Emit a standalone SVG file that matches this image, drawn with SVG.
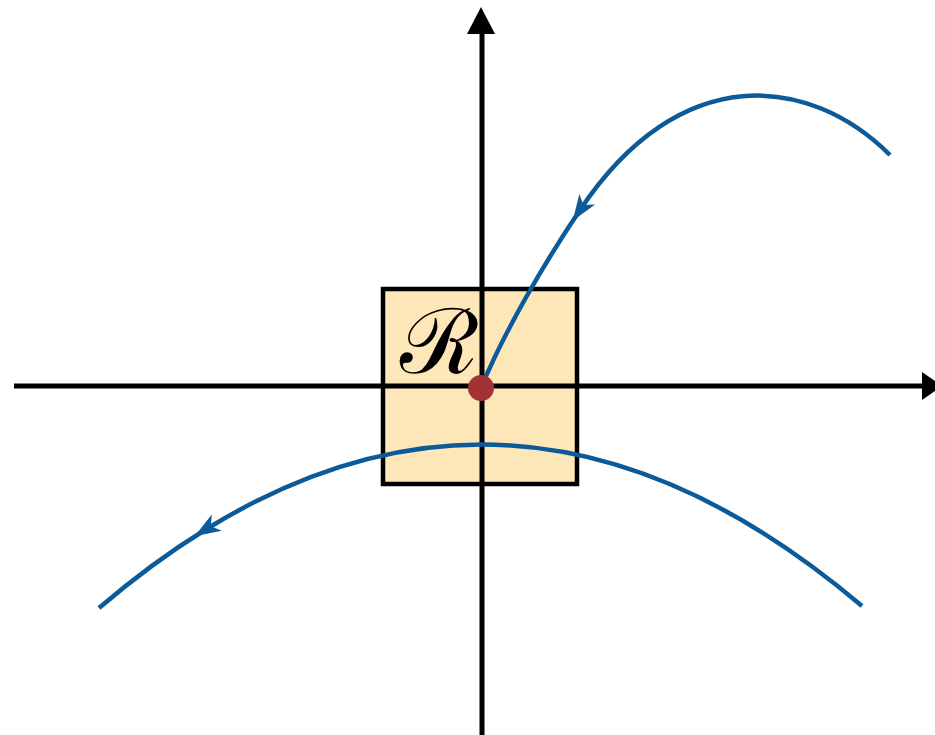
<svg xmlns="http://www.w3.org/2000/svg" width="935" height="735" viewBox="0 0 935 735">
<style>
.axis{stroke:#000;stroke-width:5;fill:none}
.ahead{fill:#000}
.curve{stroke:#0B5A99;stroke-width:4.5;fill:none;marker-mid:url(#flow)}
</style>
<defs>
<marker id="flow" viewBox="-14 -10 28 20" markerUnits="userSpaceOnUse" markerWidth="28" markerHeight="20" orient="auto" refX="0" refY="0">
<path d="M13,0 L-13,-9.5 L-6,0 L-13,9.5 Z" fill="#0B5A99"/>
</marker>
</defs>
<rect width="935" height="735" fill="#fff"/>
<g id="region">
<rect x="383" y="289" width="194" height="195" fill="#FDE7B8" stroke="#000" stroke-width="4.5"/>
</g>
<g id="axes">
<line class="axis" x1="482" y1="735" x2="482" y2="28"/>
<polygon class="ahead" points="481,7 467,34 495,34"/>
<line class="axis" x1="14" y1="386" x2="924" y2="386"/>
<polygon class="ahead" points="942,386 922,372 922,400"/>
</g>
<g id="connectors">
<path class="curve" d="M890,155 C810,75 680,60 580,210 C545,262 505,330 481,388"/>
<path class="curve" d="M862,606 Q533.5,327.4 205.7,529.5 Q152.3,562.4 99,608"/>
</g>
<g id="label">
<text x="400" y="373" font-family="DejaVu Serif, serif" font-size="90" fill="#000">ℛ</text>
</g>
<g id="point">
<circle cx="481" cy="388" r="13" fill="#A33234"/>
</g>
</svg>
